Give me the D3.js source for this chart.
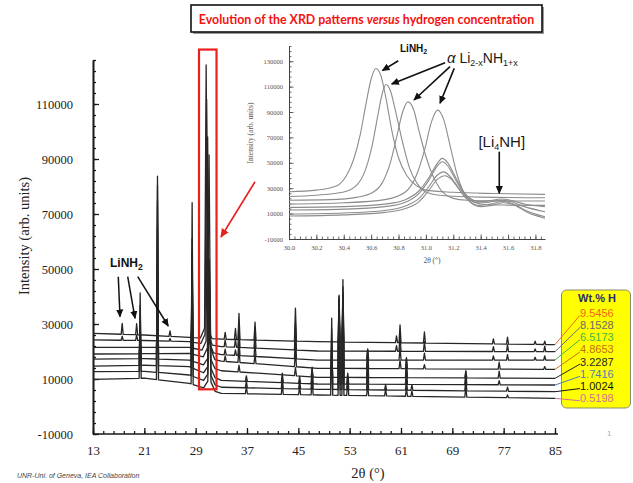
<!DOCTYPE html>
<html><head><meta charset="utf-8">
<script src="https://cdn.jsdelivr.net/npm/d3@7"></script>
<style>body{margin:0;background:#fff}svg{display:block}</style>
</head><body>
<svg id="c" width="633" height="483"></svg>
<script>
// ---------------- DATA ----------------
const wtLabels = ["9.5456","8.1528","6.5173","4.8653","3.2287","1.7416","1.0024","0.5198"];
const wtColors = ["#f2651a","#6a6a6a","#3db54a","#c0701a","#262626","#4f7fb5","#151515","#d2709a"];

// background knots (2θ) and background intensity of each pattern (top -> bottom in legend order)
const baseX = [13, 21, 28, 33, 48, 85];
const base_9_5456 = [26600, 26000, 25150, 24500, 23560, 22500];
const base_8_1528 = [24200, 24000, 23560, 21800, 20180, 19930];
const base_6_5173 = [21500, 21500, 21500, 18900, 16900, 16900];
const base_4_8653 = [19100, 19200, 19300, 16500, 13890, 13500];
const base_3_2287 = [17200, 17400, 16900, 13000, 10620, 10250];
const base_1_7416 = [14700, 15000, 14470, 9500, 8180, 7820];
const base_1_0024 = [12650, 12800, 11450, 7000, 6250, 5380];
const base_0_5198 = [9900, 10300, 8430, 4800, 4180, 2980];

// Bragg peak positions (2θ) and peak heights above background for every pattern
const peakPos = [17.55, 19.8, 20.35, 23.05, 25.0, 28.45, 33.6, 35.2, 35.75, 36.9, 38.25, 42.5, 44.55, 45.2, 47.15, 50.2,
                 51.35, 51.95, 52.7, 55.8, 58.6, 60.3, 60.85, 61.85, 62.7, 64.65, 71.1, 75.4, 76.3, 77.6, 81.9, 83.4];
const peaks_9_5456 = [4000,4000,0,0,2000,4000, 2500,4000,9500,0,6500,0, 12000,0,0,0,17000,20000, 0,0,0,2500,6500,0, 0,4000,0,1800,0,2500, 1200,1200];
const peaks_8_1528 = [1500,2000,0,0,1000,8000, 2500,3000,8000,0,6000,0, 10000,0,0,0,19000,21000, 0,0,0,2000,6000,0, 0,3500,0,1800,0,2500, 1000,2000];
const peaks_6_5173 = [0,0,0,10000,0,15000, 2000,2000,6500,0,5000,0, 8000,0,0,0,21000,22000, 0,4000,0,0,4500,0, 0,2500,0,1500,0,2000, 1000,1500];
const peaks_4_8653 = [0,0,4000,28000,0,25000, 2000,0,5000,0,3500,0, 6000,0,0,0,24000,22000, 0,7000,0,0,3000,4000, 0,1500,0,0,2500,0, 0,1000];
const peaks_3_2287 = [0,0,9000,48000,0,35000, 0,0,2500,0,0,0, 3000,0,3000,10000,28000,26000, 0,10000,0,0,0,7000, 0,0,2500,0,2500,0, 0,0];
const peaks_1_7416 = [0,0,16000,60000,0,42000, 0,0,0,2000,0,3500, 0,2500,5000,16000,30000,32000, 4000,9000,0,0,0,6000, 0,0,5000,0,1500,0, 0,0];
const peaks_1_0024 = [0,0,24000,68000,0,50000, 0,0,0,2500,0,4000, 0,3000,8000,22000,33000,40000, 5000,7000,2000,0,0,4000, 2000,0,4500,0,0,1500, 0,0];
const peaks_0_5198 = [0,0,31000,74000,0,66000, 0,0,0,2500,0,3500, 0,3000,6000,28000,36000,34000, 6000,4000,2500,0,0,3000, 2000,0,3500,0,0,1000, 0,0];

// main reflection inside the red frame (same as the inset): position and absolute top, plus its broad foot
const mainPeakPos = [30.635, 30.708, 30.869, 31.086, 31.12, 31.12, 31.13, 31.14];
const mainPeakTop = [124250, 111700, 98000, 91500, 53500, 50800, 42900, 39800];
const mainPeakFoot = [5000, 5000, 5000, 5000, 4000, 4000, 4000, 4000];

// tick values
const mainXTicks = [13, 21, 29, 37, 45, 53, 61, 69, 77, 85];
const mainYTicks = [-10000, 10000, 30000, 50000, 70000, 90000, 110000];
const insetXTicks = [30.0, 30.2, 30.4, 30.6, 30.8, 31.0, 31.2, 31.4, 31.6, 31.8];
const insetYTicks = [-10000, 10000, 30000, 50000, 70000, 90000, 110000, 130000];

// inset curves, [2θ, intensity]
const inset_1 = [[30.0,27200],[30.2,28500],[30.35,32000],[30.42,40000],[30.47,52000],[30.52,72000],[30.56,95000],[30.6,116000],[30.635,124250],[30.67,119000],[30.71,100000],[30.75,76000],[30.8,54000],[30.86,40000],[30.93,32000],[31.0,28500],[31.2,26800],[31.5,25800],[31.87,25150]];
const inset_2 = [[30.0,23500],[30.2,24500],[30.4,27000],[30.5,33000],[30.56,45000],[30.61,65000],[30.65,88000],[30.68,104000],[30.708,111700],[30.74,107000],[30.78,90000],[30.83,66000],[30.88,46000],[30.94,33000],[31.0,27000],[31.1,24500],[31.4,23000],[31.87,22500]];
const inset_3 = [[30.0,20500],[30.3,21000],[30.5,23000],[30.6,26000],[30.68,34000],[30.74,50000],[30.79,72000],[30.83,90000],[30.869,98000],[30.91,92000],[30.95,75000],[31.0,55000],[31.05,40000],[31.1,30000],[31.2,22000],[31.3,20500],[31.5,20000],[31.87,19900]];
const inset_4 = [[30.0,17500],[30.4,18500],[30.7,21000],[30.85,27000],[30.93,40000],[30.99,60000],[31.04,82000],[31.086,91500],[31.13,84000],[31.18,62000],[31.23,40000],[31.28,26000],[31.35,19000],[31.45,17000],[31.6,16700],[31.87,16500]];
const inset_5 = [[30.0,14900],[30.4,15500],[30.7,17500],[30.85,21000],[30.95,28000],[31.02,38000],[31.08,49000],[31.12,53500],[31.16,50000],[31.21,40000],[31.27,28000],[31.33,21500],[31.38,19500],[31.46,20000],[31.55,21500],[31.62,20500],[31.72,17500],[31.87,15400]];
const inset_6 = [[30.0,12800],[30.4,13500],[30.7,15500],[30.85,19000],[30.95,26000],[31.02,36000],[31.08,47000],[31.12,50800],[31.16,47500],[31.21,38000],[31.27,27000],[31.33,20500],[31.38,18500],[31.46,19000],[31.55,20500],[31.62,19500],[31.72,15500],[31.87,11500]];
const inset_7 = [[30.0,9700],[30.4,10500],[30.7,12500],[30.85,16000],[30.95,22000],[31.02,31000],[31.08,40000],[31.13,42900],[31.17,40000],[31.22,33000],[31.28,24000],[31.34,18000],[31.39,16500],[31.47,17500],[31.56,19500],[31.63,18000],[31.73,12500],[31.87,7500]];
const inset_8 = [[30.0,8100],[30.4,9000],[30.7,11000],[30.85,14000],[30.95,19500],[31.02,28000],[31.08,36500],[31.14,39800],[31.18,37500],[31.23,31000],[31.29,22500],[31.35,17000],[31.4,15500],[31.48,16500],[31.57,18500],[31.64,17000],[31.74,11000],[31.87,6300]];

const baselines = [base_9_5456, base_8_1528, base_6_5173, base_4_8653, base_3_2287, base_1_7416, base_1_0024, base_0_5198];
const peakHeights = [peaks_9_5456, peaks_8_1528, peaks_6_5173, peaks_4_8653, peaks_3_2287, peaks_1_7416, peaks_1_0024, peaks_0_5198];
const insetCurves = [inset_1, inset_2, inset_3, inset_4, inset_5, inset_6, inset_7, inset_8];

// ---------------- DRAWING ----------------
const svg = d3.select("#c");
svg.append("rect").attr("width",633).attr("height",483).attr("fill","#fff");
const SERIF = "'Liberation Serif','Times New Roman',serif";
const SANS = "'Liberation Sans',Arial,sans-serif";
const plainInt = d => String(Math.round(d));

const defs = svg.append("defs");
function marker(id, color, size){
  defs.append("marker").attr("id",id).attr("viewBox","0 0 10 10").attr("refX",9).attr("refY",5)
    .attr("markerWidth",size).attr("markerHeight",size).attr("orient","auto").attr("markerUnits","userSpaceOnUse")
    .append("path").attr("d","M0,0.5 L10,5 L0,9.5 Z").attr("fill",color);
}
marker("arrB","#111",8);
marker("arrR","#e8201e",9);

// Title
const tg = svg.append("g");
tg.append("rect").attr("x",193).attr("y",7).attr("width",351).attr("height",27).attr("fill","#9a9a9a");
tg.append("rect").attr("x",191).attr("y",5).attr("width",351).attr("height",27).attr("fill","#fff").attr("stroke","#111").attr("stroke-width",1.6);
const title = tg.append("text").attr("x",366.5).attr("y",23.5).attr("text-anchor","middle")
  .attr("font-family","Lato,'Open Sans',sans-serif").attr("font-weight","bold").attr("font-size",14).attr("fill","#f51212");
title.append("tspan").text("Evolution of the XRD patterns ");
title.append("tspan").attr("font-style","italic").text("versus");
title.append("tspan").text(" hydrogen concentration");
{ const w = title.node().getComputedTextLength(); title.attr("font-size", 14*336/w); }

// Main scales
const xMain = d3.scaleLinear().domain([13,85]).range([93,555]);
const yMain = d3.scaleLinear().domain([-10000,126000]).range([434,60]);

// Main axes
function styleAxis(g, w){
  g.select(".domain").attr("stroke","#1a1a1a").attr("stroke-width",w);
  g.selectAll(".tick line").attr("stroke","#1a1a1a").attr("stroke-width",w*0.8);
}
const yMinor = d3.range(0,35).map(i=>-10000+i*4000);
const xMinor = d3.range(0,46).map(i=>13+i*1.6);
let g = svg.append("g").attr("transform",`translate(${xMain(13)},0)`)
  .call(d3.axisLeft(yMain).tickValues(yMinor).tickSize(-3).tickSizeOuter(0).tickFormat(""));
styleAxis(g,1.6);
g = svg.append("g").attr("transform",`translate(${xMain(13)},0)`)
  .call(d3.axisLeft(yMain).tickValues(mainYTicks).tickSize(-6).tickSizeOuter(0).tickPadding(20).tickFormat(plainInt));
styleAxis(g,1.6);
g.selectAll("text").attr("font-family",SERIF).attr("font-size",12.5).attr("fill","#222");
g = svg.append("g").attr("transform",`translate(0,${yMain(-10000)})`)
  .call(d3.axisBottom(xMain).tickValues(xMinor).tickSize(-3).tickSizeOuter(0).tickFormat(""));
styleAxis(g,1.6);
g.select(".domain").attr("d",`M${xMain(13)},0H${xMain(85)+3}`);
g = svg.append("g").attr("transform",`translate(0,${yMain(-10000)})`)
  .call(d3.axisBottom(xMain).tickValues(mainXTicks).tickSize(-6).tickSizeOuter(0).tickPadding(12));
styleAxis(g,1.6);
g.select(".domain").remove();
g.selectAll("text").attr("font-family",SERIF).attr("font-size",13).attr("fill","#222");

svg.append("text").attr("transform","translate(29,236) rotate(-90)").attr("text-anchor","middle")
  .attr("font-family",SERIF).attr("font-size",14.5).attr("fill","#222").text("Intensity (arb. units)");
svg.append("text").attr("x",368).attr("y",478).attr("text-anchor","middle")
  .attr("font-family",SERIF).attr("font-size",14.5).attr("fill","#222").text("2θ (°)");

// Main patterns
const HW = 0.16;
function patternPoints(i){
  const bl = d3.scaleLinear().domain(baseX).range(baselines[i]);
  const pk = [];
  peakPos.forEach((p,j)=>{ const h = peakHeights[i][j]; if(h>0) pk.push([p,h,HW]); });
  const mp = mainPeakPos[i];
  pk.push([mp, mainPeakFoot[i], 0.9]);
  pk.push([mp, mainPeakTop[i]-bl(mp)-mainPeakFoot[i], 0.25]);
  const xs = new Set(baseX);
  pk.forEach(([p,h,w])=>{ xs.add(+(p-w).toFixed(4)); xs.add(p); xs.add(+(p+w).toFixed(4)); });
  return Array.from(xs).filter(x=>x>=13&&x<=85).sort((a,b)=>a-b).map(x=>{
    let v = bl(x);
    pk.forEach(([p,h,w])=>{ const d=Math.abs(x-p); if(d<w) v += h*(1-d/w); });
    return [x,v];
  });
}
const mainLine = d3.line().x(d=>xMain(d[0])).y(d=>yMain(d[1]));
const pg = svg.append("g");
for(let i=wtLabels.length-1;i>=0;i--){
  pg.append("path").attr("d",mainLine(patternPoints(i))).attr("fill","none")
    .attr("stroke","#262626").attr("stroke-width",1.3).attr("stroke-linejoin","round");
}

// Red frame and red arrow
svg.append("rect").attr("x",xMain(29.52)).attr("y",yMain(129800))
  .attr("width",xMain(32.25)-xMain(29.52)).attr("height",yMain(6250)-yMain(129800))
  .attr("fill","none").attr("stroke","#e8201e").attr("stroke-width",2.2);
svg.append("line").attr("x1",xMain(38.25)).attr("y1",yMain(81740)).attr("x2",xMain(32.95)).attr("y2",yMain(61630))
  .attr("stroke","#e8201e").attr("stroke-width",1.6).attr("marker-end","url(#arrR)");

// LiNH2 annotation in main plot
const lab = svg.append("text").attr("x",xMain(15.65)).attr("y",yMain(50600))
  .attr("font-family",SANS).attr("font-weight","bold").attr("font-size",12).attr("fill","#111");
lab.append("tspan").text("LiNH");
lab.append("tspan").attr("dy",3).attr("font-size",8.5).text("2");
[[16.94,47200,17.21,32650],[18.41,47200,19.55,32070],[19.97,47200,24.73,29270]].forEach(a=>{
  svg.append("line").attr("x1",xMain(a[0])).attr("y1",yMain(a[1])).attr("x2",xMain(a[2])).attr("y2",yMain(a[3]))
    .attr("stroke","#111").attr("stroke-width",1.5).attr("marker-end","url(#arrB)");
});

// ---------------- INSET ----------------
const xIn = d3.scaleLinear().domain([30,31.87]).range([289,545]);
const yIn = d3.scaleLinear().domain([-10000,142000]).range([239,46]);
function styleIn(g){
  g.select(".domain").attr("stroke","#444").attr("stroke-width",1);
  g.selectAll(".tick line").attr("stroke","#444").attr("stroke-width",0.8);
}
g = svg.append("g").attr("transform",`translate(${xIn(30)},0)`)
  .call(d3.axisLeft(yIn).tickValues(d3.range(0,39).map(i=>-10000+i*4000)).tickSize(-2.5).tickSizeOuter(0).tickFormat(""));
styleIn(g);
g = svg.append("g").attr("transform",`translate(${xIn(30)},0)`)
  .call(d3.axisLeft(yIn).tickValues(insetYTicks).tickSize(-4.5).tickSizeOuter(0).tickPadding(6).tickFormat(plainInt));
styleIn(g);
g.selectAll("text").attr("font-family",SERIF).attr("font-size",6.5).attr("fill","#555");
g = svg.append("g").attr("transform",`translate(0,${yIn(-10000)})`)
  .call(d3.axisBottom(xIn).tickValues(d3.range(0,47).map(i=>30+i*0.04)).tickSize(-2.5).tickSizeOuter(0).tickFormat(""));
styleIn(g);
g = svg.append("g").attr("transform",`translate(0,${yIn(-10000)})`)
  .call(d3.axisBottom(xIn).tickValues(insetXTicks).tickSize(-4.5).tickSizeOuter(0).tickPadding(6).tickFormat(d3.format(".1f")));
styleIn(g);
g.select(".domain").remove();
g.selectAll("text").attr("font-family",SERIF).attr("font-size",6.5).attr("fill","#555");
svg.append("text").attr("transform","translate(253,133) rotate(-90)").attr("text-anchor","middle")
  .attr("font-family",SERIF).attr("font-size",7.5).attr("fill","#555").text("Intensity (arb. units)");
svg.append("text").attr("x",432).attr("y",263).attr("text-anchor","middle")
  .attr("font-family",SERIF).attr("font-size",7.5).attr("fill","#555").text("2θ (°)");

const inLine = d3.line().x(d=>xIn(d[0])).y(d=>yIn(d[1])).curve(d3.curveMonotoneX);
insetCurves.forEach(c=>{
  svg.append("path").attr("d",inLine(c)).attr("fill","none").attr("stroke","#8c8c8c").attr("stroke-width",1.1);
});

// inset annotations
let t = svg.append("text").attr("x",xIn(30.811)).attr("y",yIn(137500))
  .attr("font-family",SANS).attr("font-weight","bold").attr("font-size",10).attr("fill","#111");
t.append("tspan").text("LiNH"); t.append("tspan").attr("dy",2.5).attr("font-size",7).text("2");
t = svg.append("text").attr("x",xIn(31.154)).attr("y",yIn(128600))
  .attr("font-family",SANS).attr("font-size",14).attr("fill","#1a1a1a");
t.append("tspan").attr("font-style","italic").attr("font-size",15).text("α");
t.append("tspan").text(" Li");
t.append("tspan").attr("dy",3).attr("font-size",9).text("2-x");
t.append("tspan").attr("dy",-3).text("NH");
t.append("tspan").attr("dy",3).attr("font-size",9).text("1+x");
t = svg.append("text").attr("x",xIn(31.554)).attr("y",yIn(62500)).attr("text-anchor","middle")
  .attr("font-family",SANS).attr("font-size",15).attr("fill","#1a1a1a");
t.append("tspan").text("[Li");
t.append("tspan").attr("dy",3).attr("font-size",9).text("4");
t.append("tspan").attr("dy",-3).text("NH]");
[[30.798,130400,30.682,122600],[31.14,128900,30.75,112100],[31.176,125700,30.913,99500],[31.207,124400,31.103,96900],[31.536,58800,31.536,26000]]
.forEach(a=>{
  svg.append("line").attr("x1",xIn(a[0])).attr("y1",yIn(a[1])).attr("x2",xIn(a[2])).attr("y2",yIn(a[3]))
    .attr("stroke","#111").attr("stroke-width",1.6).attr("marker-end","url(#arrB)");
});

// ---------------- LEGEND ----------------
const lg = svg.append("g");
lg.append("rect").attr("x",561.5).attr("y",290).attr("width",69).attr("height",118).attr("rx",5)
  .attr("fill","#ffff00").attr("stroke","#8a8a70").attr("stroke-width",1);
lg.append("text").attr("x",597).attr("y",301.5).attr("text-anchor","middle").attr("font-family",SANS)
  .attr("font-weight","bold").attr("font-size",11).attr("fill","#2b2b70").text("Wt.% H");
const labelY = d3.scaleLinear().domain([0,7]).range([312.7,398.3]);
wtLabels.forEach((s,i)=>{
  const bl = d3.scaleLinear().domain(baseX).range(baselines[i]);
  lg.append("line").attr("x1",xMain(85)).attr("y1",yMain(bl(85))).attr("x2",580).attr("y2",labelY(i)+2.5)
    .attr("stroke",wtColors[i]).attr("stroke-width",1);
  lg.append("text").attr("x",580).attr("y",labelY(i)+4).attr("font-family",SANS).attr("font-size",11)
    .attr("fill",wtColors[i]).text(s);
});

// footer texts
svg.append("text").attr("x",17).attr("y",478).attr("font-family",SANS).attr("font-style","italic")
  .attr("font-size",7).attr("fill","#444").text("UNR-Uni. of Geneva, IEA Collaboration");
svg.append("text").attr("x",607).attr("y",436).attr("font-family",SANS)
  .attr("font-size",8).attr("fill","#aaa").text("1");
</script>
</body></html>
